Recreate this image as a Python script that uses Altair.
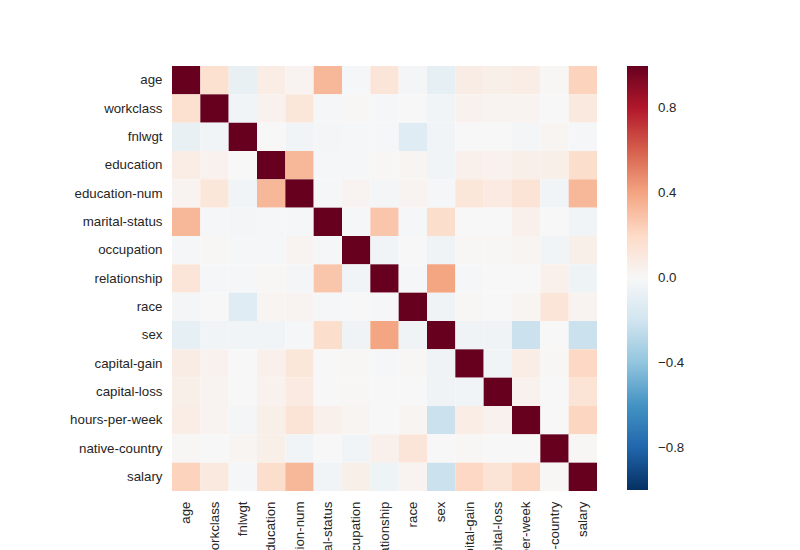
import altair as alt
import pandas as pd

labels = ["age", "workclass", "fnlwgt", "education", "education-num",
          "marital-status", "occupation", "relationship", "race", "sex",
          "capital-gain", "capital-loss", "hours-per-week", "native-country", "salary"]

# upper-triangle correlations (values to the right of the diagonal), row by row
up_age = [0.16, -0.08, 0.07, 0.03, 0.33, -0.01, 0.13, -0.02, -0.09, 0.08, 0.06, 0.07, 0.01, 0.23]
up_workclass = [-0.03, 0.04, 0.12, -0.01, 0.01, -0.01, 0.0, -0.03, 0.04, 0.03, 0.03, 0.0, 0.10]
up_fnlwgt = [0.0, -0.03, -0.02, -0.01, -0.01, -0.12, -0.03, 0.0, 0.0, -0.02, 0.02, -0.01]
up_education = [0.33, -0.01, -0.01, 0.01, 0.02, -0.03, 0.05, 0.04, 0.06, 0.06, 0.18]
up_education_num = [-0.01, 0.03, -0.02, 0.03, -0.01, 0.12, 0.09, 0.14, -0.03, 0.33]
up_marital = [-0.01, 0.28, -0.01, 0.18, 0.0, 0.0, 0.05, 0.0, -0.03]
up_occupation = [-0.03, 0.0, -0.04, 0.01, 0.01, 0.02, -0.03, 0.06]
up_relationship = [-0.01, 0.40, -0.01, 0.0, 0.0, 0.05, -0.05]
up_race = [-0.04, 0.01, 0.0, 0.02, 0.13, 0.03]
up_sex = [-0.04, -0.04, -0.22, 0.0, -0.22]
up_capital_gain = [-0.03, 0.07, 0.01, 0.21]
up_capital_loss = [0.04, 0.0, 0.14]
up_hours = [0.0, 0.22]
up_native = [0.01]
up_salary = []

upper = [up_age, up_workclass, up_fnlwgt, up_education, up_education_num,
         up_marital, up_occupation, up_relationship, up_race, up_sex,
         up_capital_gain, up_capital_loss, up_hours, up_native, up_salary]

n = len(labels)
M = [[1.0] * n for _ in range(n)]
for i in range(n):
    for k, v in enumerate(upper[i]):
        j = i + 1 + k
        M[i][j] = v
        M[j][i] = v

records = []
for i in range(n):
    for j in range(n):
        records.append({"row": labels[i], "col": labels[j], "value": M[i][j]})
df = pd.DataFrame(records)

rdbu_r = ["#053061", "#2166ac", "#4393c3", "#92c5de", "#d1e5f0", "#f7f7f7",
          "#fddbc7", "#f4a582", "#d6604d", "#b2182b", "#67001f"]
dom = [-1.0, -0.8, -0.6, -0.4, -0.2, 0.0, 0.2, 0.4, 0.6, 0.8, 1.0]

font = "Liberation Sans"
tcol = "#262626"
fs = 13.3

chart = alt.Chart(df).mark_rect().encode(
    x=alt.X("col:N", sort=labels, title=None,
            scale=alt.Scale(paddingInner=0, paddingOuter=0),
            axis=alt.Axis(labelAngle=-90, ticks=False, tickSize=0, domain=False,
                          labelPadding=10, labelFontSize=fs, labelColor=tcol,
                          labelFont=font, grid=False)),
    y=alt.Y("row:N", sort=labels, title=None,
            scale=alt.Scale(paddingInner=0, paddingOuter=0),
            axis=alt.Axis(ticks=False, tickSize=0, domain=False,
                          labelPadding=10, labelFontSize=fs, labelColor=tcol,
                          labelFont=font, grid=False)),
    color=alt.Color("value:Q",
                    scale=alt.Scale(domain=dom, range=rdbu_r, interpolate="rgb"),
                    legend=alt.Legend(orient="none", legendX=455, legendY=0,
                                      direction="vertical", title=None,
                                      gradientLength=424, gradientThickness=21,
                                      gradientStrokeWidth=0,
                                      values=[-0.8, -0.4, 0.0, 0.4, 0.8],
                                      labelExpr="replace(format(datum.value, '.1f'), '-', '\u2212')",
                                      labelFontSize=fs, labelColor=tcol, labelFont=font,
                                      labelOffset=10, labelOverlap=False)),
).properties(
    width=425, height=425,
    autosize="none",
    padding={"left": 172, "top": 66, "right": 203, "bottom": 59},
    background="white",
).configure_view(stroke=None)

chart.save("out.html", embed_options={"renderer": "svg", "actions": False})
